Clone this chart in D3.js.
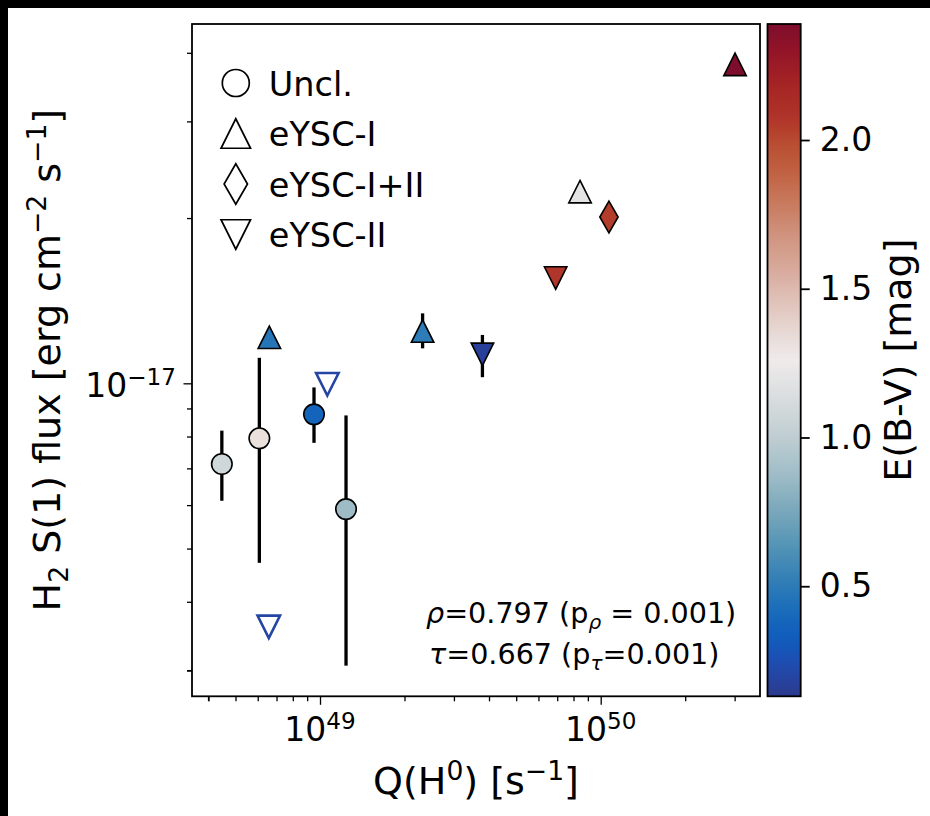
<!DOCTYPE html>
<html>
<head>
<meta charset="utf-8">
<script src="https://cdn.jsdelivr.net/npm/d3@7"></script>
<style>
  body { margin: 0; background: #fff; }
  svg { display: block; font-family: "DejaVu Sans", sans-serif; }
</style>
</head>
<body>
<div id="chart"></div>
<script>
// ---------------------------------------------------------------------------
// Data
// ---------------------------------------------------------------------------
const cluster  = ["Uncl.", "Uncl.", "Uncl.", "Uncl.", "eYSC-I", "eYSC-II", "eYSC-II",
                  "eYSC-I", "eYSC-II", "eYSC-II", "eYSC-I", "eYSC-I+II", "eYSC-I"];
const qH0      = [4.47e48, 6.08e48, 9.52e48, 1.238e49, 6.60e48, 1.062e49, 6.57e48,
                  2.32e49, 3.79e49, 6.91e49, 8.44e49, 1.070e50, 3.01e50];
const h2Flux   = [7.13e-18, 7.94e-18, 8.78e-18, 5.90e-18, 1.213e-17, 9.96e-18, 3.60e-18,
                  1.245e-17, 1.129e-17, 1.555e-17, 2.234e-17, 2.009e-17, 3.81e-17];
const fluxLow  = [6.11e-18, 4.71e-18, 7.79e-18, 3.06e-18, null, null, null,
                  1.158e-17, 1.026e-17, null, null, null, null];
const fluxHigh = [8.20e-18, 1.113e-17, 9.83e-18, 8.74e-18, null, null, null,
                  1.341e-17, 1.225e-17, null, null, null, null];
const ebv      = [1.08, 1.32, 0.37, 0.87, 0.47, 0.20, 0.20,
                  0.50, 0.17, 2.07, 1.20, 2.04, 2.39];
const upperLim = [false, false, false, false, false, true, true,
                  false, false, false, false, false, false];

const legendClasses = ["Uncl.", "eYSC-I", "eYSC-I+II", "eYSC-II"];
const xMajorTicks = [1e49, 1e50];
const xMinorTicks = [4e48, 5e48, 6e48, 7e48, 8e48, 9e48,
                     2e49, 3e49, 4e49, 5e49, 6e49, 7e49, 8e49, 9e49, 2e50, 3e50];
const yMajorTicks = [1e-17];
const yMinorTicks = [3e-18, 4e-18, 5e-18, 6e-18, 7e-18, 8e-18, 9e-18, 2e-17, 3e-17, 4e-17];
const cbarTicks   = [0.5, 1.0, 1.5, 2.0];
const xLimits = [Math.pow(10, 48.544), Math.pow(10, 50.5675)];
const yLimits = [Math.pow(10, -17.5701), Math.pow(10, -16.3455)];
const cLimits = [0.13, 2.39];
const statLines = [
    [{t: "ρ", i: true}, {t: "=0.797 (p"}, {t: "ρ", i: true, s: "sub"}, {t: " = 0.001)"}],
    [{t: "τ", i: true}, {t: "=0.667 (p"}, {t: "τ", i: true, s: "sub"}, {t: "=0.001)"}]
];

// Diverging colormap sampled from the colorbar
const cmapStops = [0.128, 0.186, 0.253, 0.33, 0.421, 0.532, 0.646, 0.757, 0.868, 1.0,
                   1.15, 1.261, 1.338, 1.452, 1.563, 1.674, 1.788, 1.899, 2.0, 2.067,
                   2.178, 2.292, 2.39];
const cmapColors = ["#2b3a8c", "#2742a0", "#1c4fb3", "#0f5dbd", "#1a6cba", "#3581b6",
                    "#5796b6", "#7aa8bb", "#9dbcc6", "#bfcdd2", "#dcdfe0", "#efebea",
                    "#e8dcd8", "#e0c4bb", "#d8aa9c", "#d09580", "#c87a5e", "#c06040",
                    "#b84a30", "#b0352a", "#a62624", "#941528", "#7d0d2c"];

// ---------------------------------------------------------------------------
// Layout
// ---------------------------------------------------------------------------
const W = 930, H = 816;
const plot = { left: 192, right: 760, top: 24, bottom: 696.3 };
const cbar = { left: 767.5, right: 800.7 };
const tickFont = 33, labelFont = 38, legendFont = 33.5, statFont = 28.6;

const svg = d3.select("#chart")
    .append("svg")
    .attr("width", W)
    .attr("height", H);

// black strips on the top and left edges of the screenshot
svg.append("rect").attr("x", 0).attr("y", 0).attr("width", W).attr("height", 8).attr("fill", "#000");
svg.append("rect").attr("x", 0).attr("y", 0).attr("width", 8).attr("height", H).attr("fill", "#000");

const x = d3.scaleLog().domain(xLimits).range([plot.left, plot.right]);
const y = d3.scaleLog().domain(yLimits).range([plot.bottom, plot.top]);
const c = d3.scaleLinear().domain(cLimits).range([plot.bottom, plot.top]);
const cmap = d3.scaleLinear().domain(cmapStops).range(cmapColors)
    .interpolate(d3.interpolateRgb).clamp(true);

// write text made of normal / superscript / subscript / italic pieces
function richText(sel, parts, fs) {
    let shift = 0;
    parts.forEach(p => {
        let target = 0;
        if (p.s === "sup") target = -0.36 * fs;
        if (p.s === "sub") target = 0.2 * fs;
        const ts = sel.append("tspan")
            .attr("dy", target - shift)
            .attr("font-size", p.s ? fs * 0.7 : fs)
            .text(p.t);
        if (p.i) ts.attr("font-style", "italic");
        shift = target;
    });
}

// marker shapes (matplotlib-like), centred on 0,0
function markerPath(cls, size) {
    const h = size / 2;
    if (cls === "Uncl.")     return `M${h},0A${h},${h} 0 1,1 ${-h},0A${h},${h} 0 1,1 ${h},0Z`;
    if (cls === "eYSC-I")    return `M0,${-h}L${h},${h}L${-h},${h}Z`;
    if (cls === "eYSC-II")   return `M0,${h}L${h},${-h}L${-h},${-h}Z`;
    if (cls === "eYSC-I+II") return `M0,${-h * 1.35}L${h * 0.78},0L0,${h * 1.35}L${-h * 0.78},0Z`;
}

// ---------------------------------------------------------------------------
// Axes
// ---------------------------------------------------------------------------
const xAxisG = svg.append("g").attr("transform", `translate(0, ${plot.bottom})`);
xAxisG.call(d3.axisBottom(x).tickValues(xMinorTicks).tickSize(5).tickFormat(""));
xAxisG.append("g").call(d3.axisBottom(x).tickValues(xMajorTicks).tickSize(8.5).tickFormat(""));

const yAxisG = svg.append("g").attr("transform", `translate(${plot.left}, 0)`);
yAxisG.call(d3.axisLeft(y).tickValues(yMinorTicks).tickSize(5).tickFormat(""));
yAxisG.append("g").call(d3.axisLeft(y).tickValues(yMajorTicks).tickSize(8.5).tickFormat(""));

svg.selectAll(".domain").remove();
svg.selectAll(".tick line").attr("stroke", "#000").attr("stroke-width", 1.3);
xAxisG.select("g").selectAll(".tick line").attr("stroke-width", 1.8);
yAxisG.select("g").selectAll(".tick line").attr("stroke-width", 1.8);

// x tick labels 10^49, 10^50
xMajorTicks.forEach(v => {
    const t = svg.append("text")
        .attr("x", x(v))
        .attr("y", plot.bottom + 45)
        .attr("text-anchor", "middle")
        .attr("font-size", tickFont);
    richText(t, [{t: "10"}, {t: String(Math.round(Math.log10(v))), s: "sup"}], tickFont);
});

// y tick labels 10^-17
yMajorTicks.forEach(v => {
    const t = svg.append("text")
        .attr("x", plot.left - 16)
        .attr("y", y(v) + 14)
        .attr("text-anchor", "end")
        .attr("font-size", tickFont);
    richText(t, [{t: "10"}, {t: "\u2212" + String(Math.abs(Math.round(Math.log10(v)))), s: "sup"}], tickFont);
});

// axis labels
const xl = svg.append("text")
    .attr("x", (plot.left + plot.right) / 2)
    .attr("y", 794)
    .attr("text-anchor", "middle")
    .attr("font-size", labelFont);
richText(xl, [{t: "Q(H"}, {t: "0", s: "sup"}, {t: ") [s"}, {t: "\u22121", s: "sup"}, {t: "]"}], labelFont);

const yl = svg.append("text")
    .attr("transform", `translate(60, ${(plot.top + plot.bottom) / 2}) rotate(-90)`)
    .attr("text-anchor", "middle")
    .attr("font-size", labelFont);
richText(yl, [{t: "H"}, {t: "2", s: "sub"}, {t: " S(1) flux [erg cm"}, {t: "\u22122", s: "sup"},
              {t: " s"}, {t: "\u22121", s: "sup"}, {t: "]"}], labelFont);

// ---------------------------------------------------------------------------
// Error bars and points
// ---------------------------------------------------------------------------
const pts = qH0.map((q, i) => ({
    q, f: h2Flux[i], lo: fluxLow[i], hi: fluxHigh[i], e: ebv[i], cls: cluster[i], lim: upperLim[i]
}));

svg.append("g").selectAll("line")
    .data(pts.filter(d => d.lo !== null))
    .enter()
    .append("line")
    .attr("x1", d => x(d.q))
    .attr("x2", d => x(d.q))
    .attr("y1", d => y(d.lo))
    .attr("y2", d => y(d.hi))
    .attr("stroke", "#000")
    .attr("stroke-width", 3.3);

const sizeOf = { "Uncl.": 20.5, "eYSC-I": 22.5, "eYSC-II": 22.5, "eYSC-I+II": 23.5 };

svg.append("g").selectAll("path")
    .data(pts)
    .enter()
    .append("path")
    .attr("transform", d => `translate(${x(d.q)}, ${y(d.f)})`)
    .attr("d", d => markerPath(d.cls, sizeOf[d.cls]))
    .attr("fill", d => d.lim ? "none" : cmap(d.e))
    .attr("stroke", d => d.lim ? cmap(d.e) : "#000")
    .attr("stroke-width", d => d.lim ? 2.6 : 1.6)
    .attr("stroke-linejoin", "miter");

// frame
svg.append("rect")
    .attr("x", plot.left).attr("y", plot.top)
    .attr("width", plot.right - plot.left).attr("height", plot.bottom - plot.top)
    .attr("fill", "none").attr("stroke", "#000").attr("stroke-width", 1.8);

// ---------------------------------------------------------------------------
// Legend
// ---------------------------------------------------------------------------
const legendSize = { "Uncl.": 27, "eYSC-I": 29.5, "eYSC-II": 29.5, "eYSC-I+II": 30 };
const legend = svg.append("g").attr("transform", "translate(235.8, 83)");
legendClasses.forEach((cls, i) => {
    legend.append("path")
        .attr("transform", `translate(0, ${i * 50.5})`)
        .attr("d", markerPath(cls, legendSize[cls]))
        .attr("fill", "none")
        .attr("stroke", "#000")
        .attr("stroke-width", 1.7);
    legend.append("text")
        .attr("x", 33)
        .attr("y", i * 50.5 + 12.5)
        .attr("font-size", legendFont)
        .text(cls);
});

// correlation statistics
statLines.forEach((parts, i) => {
    const t = svg.append("text")
        .attr("x", i === 0 ? 426 : 429)
        .attr("y", 623 + i * 41)
        .attr("font-size", statFont);
    richText(t, parts, statFont);
});

// ---------------------------------------------------------------------------
// Colorbar
// ---------------------------------------------------------------------------
const grad = svg.append("defs").append("linearGradient")
    .attr("id", "cbarGrad")
    .attr("x1", 0).attr("y1", 1).attr("x2", 0).attr("y2", 0);
d3.range(0, 1.0001, 0.02).forEach(t => {
    const v = cLimits[0] + t * (cLimits[1] - cLimits[0]);
    grad.append("stop").attr("offset", t).attr("stop-color", cmap(v));
});

svg.append("rect")
    .attr("x", cbar.left).attr("y", plot.top)
    .attr("width", cbar.right - cbar.left).attr("height", plot.bottom - plot.top)
    .attr("fill", "url(#cbarGrad)")
    .attr("stroke", "#000").attr("stroke-width", 1.8);

const cAxisG = svg.append("g").attr("transform", `translate(${cbar.right}, 0)`);
cAxisG.call(d3.axisRight(c).tickValues(cbarTicks).tickSize(9).tickPadding(10).tickFormat(d3.format(".1f")));
cAxisG.select(".domain").remove();
cAxisG.selectAll(".tick line").attr("stroke", "#000").attr("stroke-width", 1.8);
cAxisG.selectAll(".tick text")
    .attr("font-size", tickFont)
    .attr("font-family", "DejaVu Sans")
    .attr("fill", "#000");

svg.append("text")
    .attr("transform", `translate(911, ${(plot.top + plot.bottom) / 2}) rotate(-90)`)
    .attr("text-anchor", "middle")
    .attr("font-size", labelFont)
    .text("E(B-V) [mag]");
</script>
</body>
</html>
